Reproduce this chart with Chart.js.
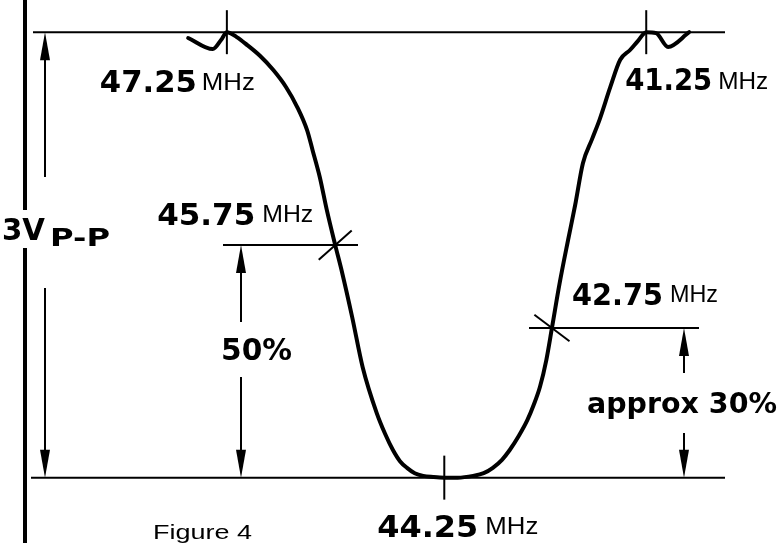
<!DOCTYPE html>
<html>
<head>
<meta charset="utf-8">
<script src="https://cdn.jsdelivr.net/npm/chart.js@4/dist/chart.umd.min.js"></script>
<style>
  html, body { margin: 0; padding: 0; background: #fff; }
  #fig { display: block; }
</style>
</head>
<body>
<canvas id="fig" width="778" height="543"></canvas>
<script>
// response curve (MHz, % of 3V p-p)
const curveMHz = [
  47.84, 47.49, 47.37, 47.29, 47.15, 47.00, 46.82, 46.63, 46.45, 46.29,
  46.15, 46.07, 45.97, 45.87, 45.75, 45.65, 45.51, 45.36, 45.16, 45.04,
  44.93, 44.83, 44.73, 44.62, 44.50, 44.36, 44.20, 44.01, 43.79, 43.64,
  43.51, 43.38, 43.27, 43.14, 43.02, 42.93, 42.84, 42.75, 42.67, 42.56,
  42.44, 42.34, 42.23, 42.10, 41.99, 41.84, 41.70, 41.56, 41.45, 41.33,
  41.19, 41.02, 40.72
];
const curveLevel = [
  98.7, 96.2, 98.3, 100, 98.9, 97.1, 94.7, 91.5, 87.7, 83.2,
  78.0, 73.4, 67.5, 60.1, 52.2, 45.9, 36.1, 24.8, 14.5, 9.8,
  6.2, 3.7, 2.2, 1.0, 0.4, 0.15, 0, 0, 0.4, 1.0,
  2.2, 4.0, 6.2, 9.4, 12.9, 16.3, 20.4, 26.4, 33.6, 43.7,
  53.4, 61.2, 70.6, 76.0, 80.5, 87.7, 93.8, 96.0, 98.0, 100,
  99.8, 96.7, 100
];

// marked frequencies on the curve
const markerLabels = ["47.25", "45.75", "44.25", "42.75", "41.25"];
const markerMHz = [47.29, 45.75, 44.20, 42.67, 41.33];
const markerLevel = [100, 52.2, 0, 33.6, 100];
const markerAngle = [90, -41.5, 90, 37, 90];

const unitLabel = "MHz";
const levelLabels = ["50%", "approx 30%"];
const fullScaleLabel = ["3V", "P-P"];
const captionText = "Figure 4";

const BOLD = "bold 30px 'DejaVu Sans'";
const UNIT = "24px 'Liberation Sans'";

function fitText(ctx, str, x, y, font, w) {
  ctx.font = font;
  const m = ctx.measureText(str).width;
  ctx.save();
  ctx.translate(x, y);
  ctx.scale(w / m, 1);
  ctx.fillText(str, 0, 0);
  ctx.restore();
}

function hLine(ctx, x1, x2, y, lw) {
  ctx.lineWidth = lw;
  ctx.beginPath();
  ctx.moveTo(x1, y);
  ctx.lineTo(x2, y);
  ctx.stroke();
}

function vLine(ctx, x, y1, y2, lw) {
  ctx.lineWidth = lw;
  ctx.beginPath();
  ctx.moveTo(x, y1);
  ctx.lineTo(x, y2);
  ctx.stroke();
}

// dir = 1 : tip points up, dir = -1 : tip points down
function arrowHead(ctx, x, tip, dir) {
  const len = 28, half = 5;
  ctx.beginPath();
  ctx.moveTo(x, tip);
  ctx.lineTo(x - half, tip + dir * len);
  ctx.lineTo(x + half, tip + dir * len);
  ctx.closePath();
  ctx.fill();
}

const figurePlugin = {
  id: "figure",
  beforeDraw(chart) {
    const ctx = chart.ctx;
    ctx.save();
    ctx.fillStyle = "#fff";
    ctx.fillRect(0, 0, chart.width, chart.height);
    ctx.restore();
  },
  afterDraw(chart) {
    const ctx = chart.ctx;
    const xs = chart.scales.x, ys = chart.scales.y;
    const top = ys.getPixelForValue(100);
    const base = ys.getPixelForValue(0);
    const mx = markerMHz.map(v => xs.getPixelForValue(v));
    const my = markerLevel.map(v => ys.getPixelForValue(v));

    ctx.save();
    ctx.strokeStyle = "#000";
    ctx.fillStyle = "#000";
    ctx.lineCap = "butt";

    // frame lines at 100% and 0%
    hLine(ctx, 33, 725, top, 2);
    hLine(ctx, 31, 725, base, 2);

    // thick left bar, broken by the 3V label
    vLine(ctx, 25, 0, 210, 4);
    vLine(ctx, 25, 248, 543, 4);

    // full scale arrow
    vLine(ctx, 45, top + 10, 177, 2);
    vLine(ctx, 45, 288, base - 10, 2);
    arrowHead(ctx, 45, top, 1);
    arrowHead(ctx, 45, base, -1);

    // 50% level
    hLine(ctx, 223, 358, my[1], 2);
    vLine(ctx, 241, my[1] + 10, 322, 2);
    vLine(ctx, 241, 377, base - 10, 2);
    arrowHead(ctx, 241, my[1], 1);
    arrowHead(ctx, 241, base, -1);

    // approx 30% level
    hLine(ctx, 529, 699, my[3], 2);
    vLine(ctx, 684, my[3] + 10, 373, 2);
    vLine(ctx, 684, 433, base - 10, 2);
    arrowHead(ctx, 684, my[3], 1);
    arrowHead(ctx, 684, base, -1);

    // frequency labels: digits dx, dy, unit dx, dy, digits width, unit width
    const pos = [
      [-127, 60, -25, 58, 97, 53],
      [-178, -20, -73, -23, 98, 51],
      [-67, 59, 41, 56, 101, 53],
      [20, -23, 118, -26, 91, 48],
      [-21, 58, 72, 57, 87, 50]
    ];
    markerLabels.forEach((lab, i) => {
      const p = pos[i];
      fitText(ctx, lab, mx[i] + p[0], my[i] + p[1], BOLD, p[4]);
      fitText(ctx, unitLabel, mx[i] + p[2], my[i] + p[3], UNIT, p[5]);
    });

    fitText(ctx, levelLabels[0], 221, 360, BOLD, 71);
    fitText(ctx, levelLabels[1], 587, 413, "bold 29px 'DejaVu Sans'", 190);

    fitText(ctx, fullScaleLabel[0], 2, 240, "bold 31px 'DejaVu Sans'", 43);
    fitText(ctx, fullScaleLabel[1], 50, 246, "bold 25px 'DejaVu Sans'", 60);

    fitText(ctx, captionText, 153, 539, "20px 'Liberation Sans'", 99);
    ctx.restore();
  }
};

const curvePoints = curveMHz.map((f, i) => ({ x: f, y: curveLevel[i] }));
const markerPoints = markerMHz.map((f, i) => ({ x: f, y: markerLevel[i] }));

new Chart(document.getElementById("fig").getContext("2d"), {
  type: "scatter",
  data: {
    datasets: [
      {
        data: curvePoints,
        showLine: true,
        borderColor: "#000",
        borderWidth: 4,
        borderJoinStyle: "round",
        borderCapStyle: "round",
        pointRadius: 0,
        cubicInterpolationMode: "monotone",
        clip: false
      },
      {
        data: markerPoints,
        showLine: false,
        pointStyle: "line",
        pointRadius: 22,
        rotation: markerAngle,
        borderColor: "#000",
        borderWidth: 2,
        clip: false
      }
    ]
  },
  options: {
    responsive: false,
    animation: false,
    layout: { autoPadding: false, padding: { left: 1, right: 3, top: 1, bottom: 3 } },
    scales: {
      x: { type: "linear", reverse: true, min: 39.5, max: 50.5, display: false },
      y: { min: -14, max: 107, display: false }
    },
    plugins: {
      legend: { display: false },
      tooltip: { enabled: false }
    }
  },
  plugins: [figurePlugin]
});
</script>
</body>
</html>
